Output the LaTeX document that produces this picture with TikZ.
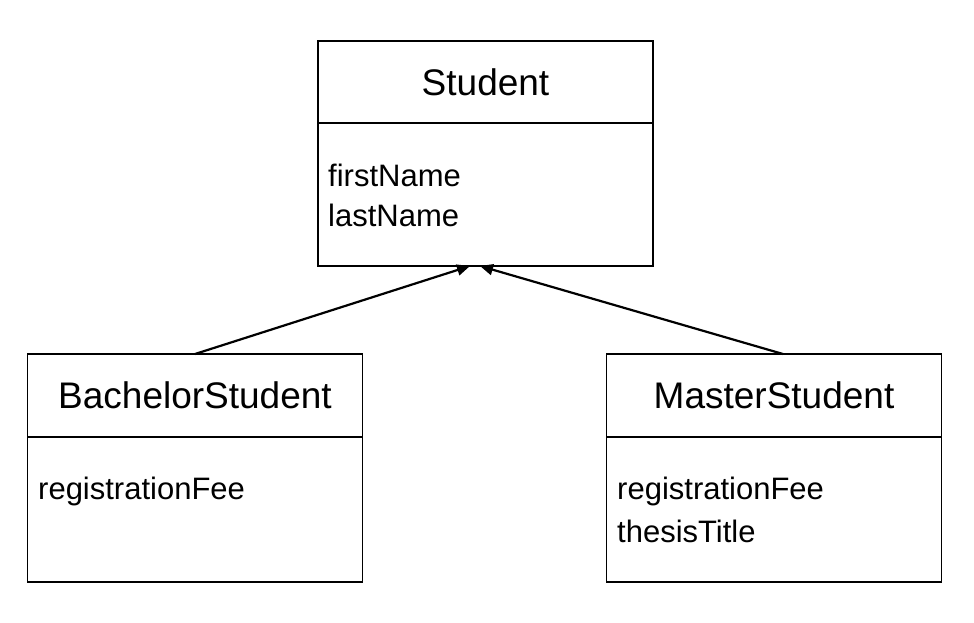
\documentclass[tikz,border=0pt]{standalone}
\usepackage{fontspec}
\setmainfont{Liberation Sans}
\usetikzlibrary{arrows.meta}
\begin{document}
\begin{tikzpicture}[x=1pt,y=-1pt,
  box/.style={draw,line width=1.3pt,minimum width=335pt,inner sep=0pt,outer sep=0pt},
  ttl/.style={font=\fontsize{37}{40}\selectfont},
  attr/.style={anchor=west,inner sep=0pt,font=\fontsize{31}{36}\selectfont},
  conn/.style={line width=2.2pt,-{Triangle[length=13pt,width=11pt]}}]
\useasboundingbox (0,0) rectangle (974,622);
% Student
\node[box,minimum height=82pt,ttl] (st) at (485.5,82) {Student};
\node[box,minimum height=143pt] (sta) at (485.5,194.5) {};
\node[attr] (a1) at (328,175) {firstName};
\node[attr] (a2) at (328,215) {lastName};
% Bachelor
\node[box,minimum height=83pt,ttl] (bs) at (195,395.5) {BachelorStudent};
\node[box,minimum height=145pt] (bsa) at (195,509.5) {};
\node[attr] (b1) at (38,491) {registrationFee};
% Master
\node[box,minimum height=83pt,ttl] (ms) at (774,395.5) {MasterStudent};
\node[box,minimum height=145pt] (msa) at (774,509.5) {};
\node[attr] (m1) at (617,491) {registrationFee};
\node[attr] (m2) at (617,531) {thesisTitle};
\coordinate (t1) at (470,266);
\coordinate (t2) at (480,266);
\draw[conn] (bs.north) -- (t1);
\draw[conn] ([xshift=9pt]ms.north) -- (t2);
\end{tikzpicture}
\end{document}
